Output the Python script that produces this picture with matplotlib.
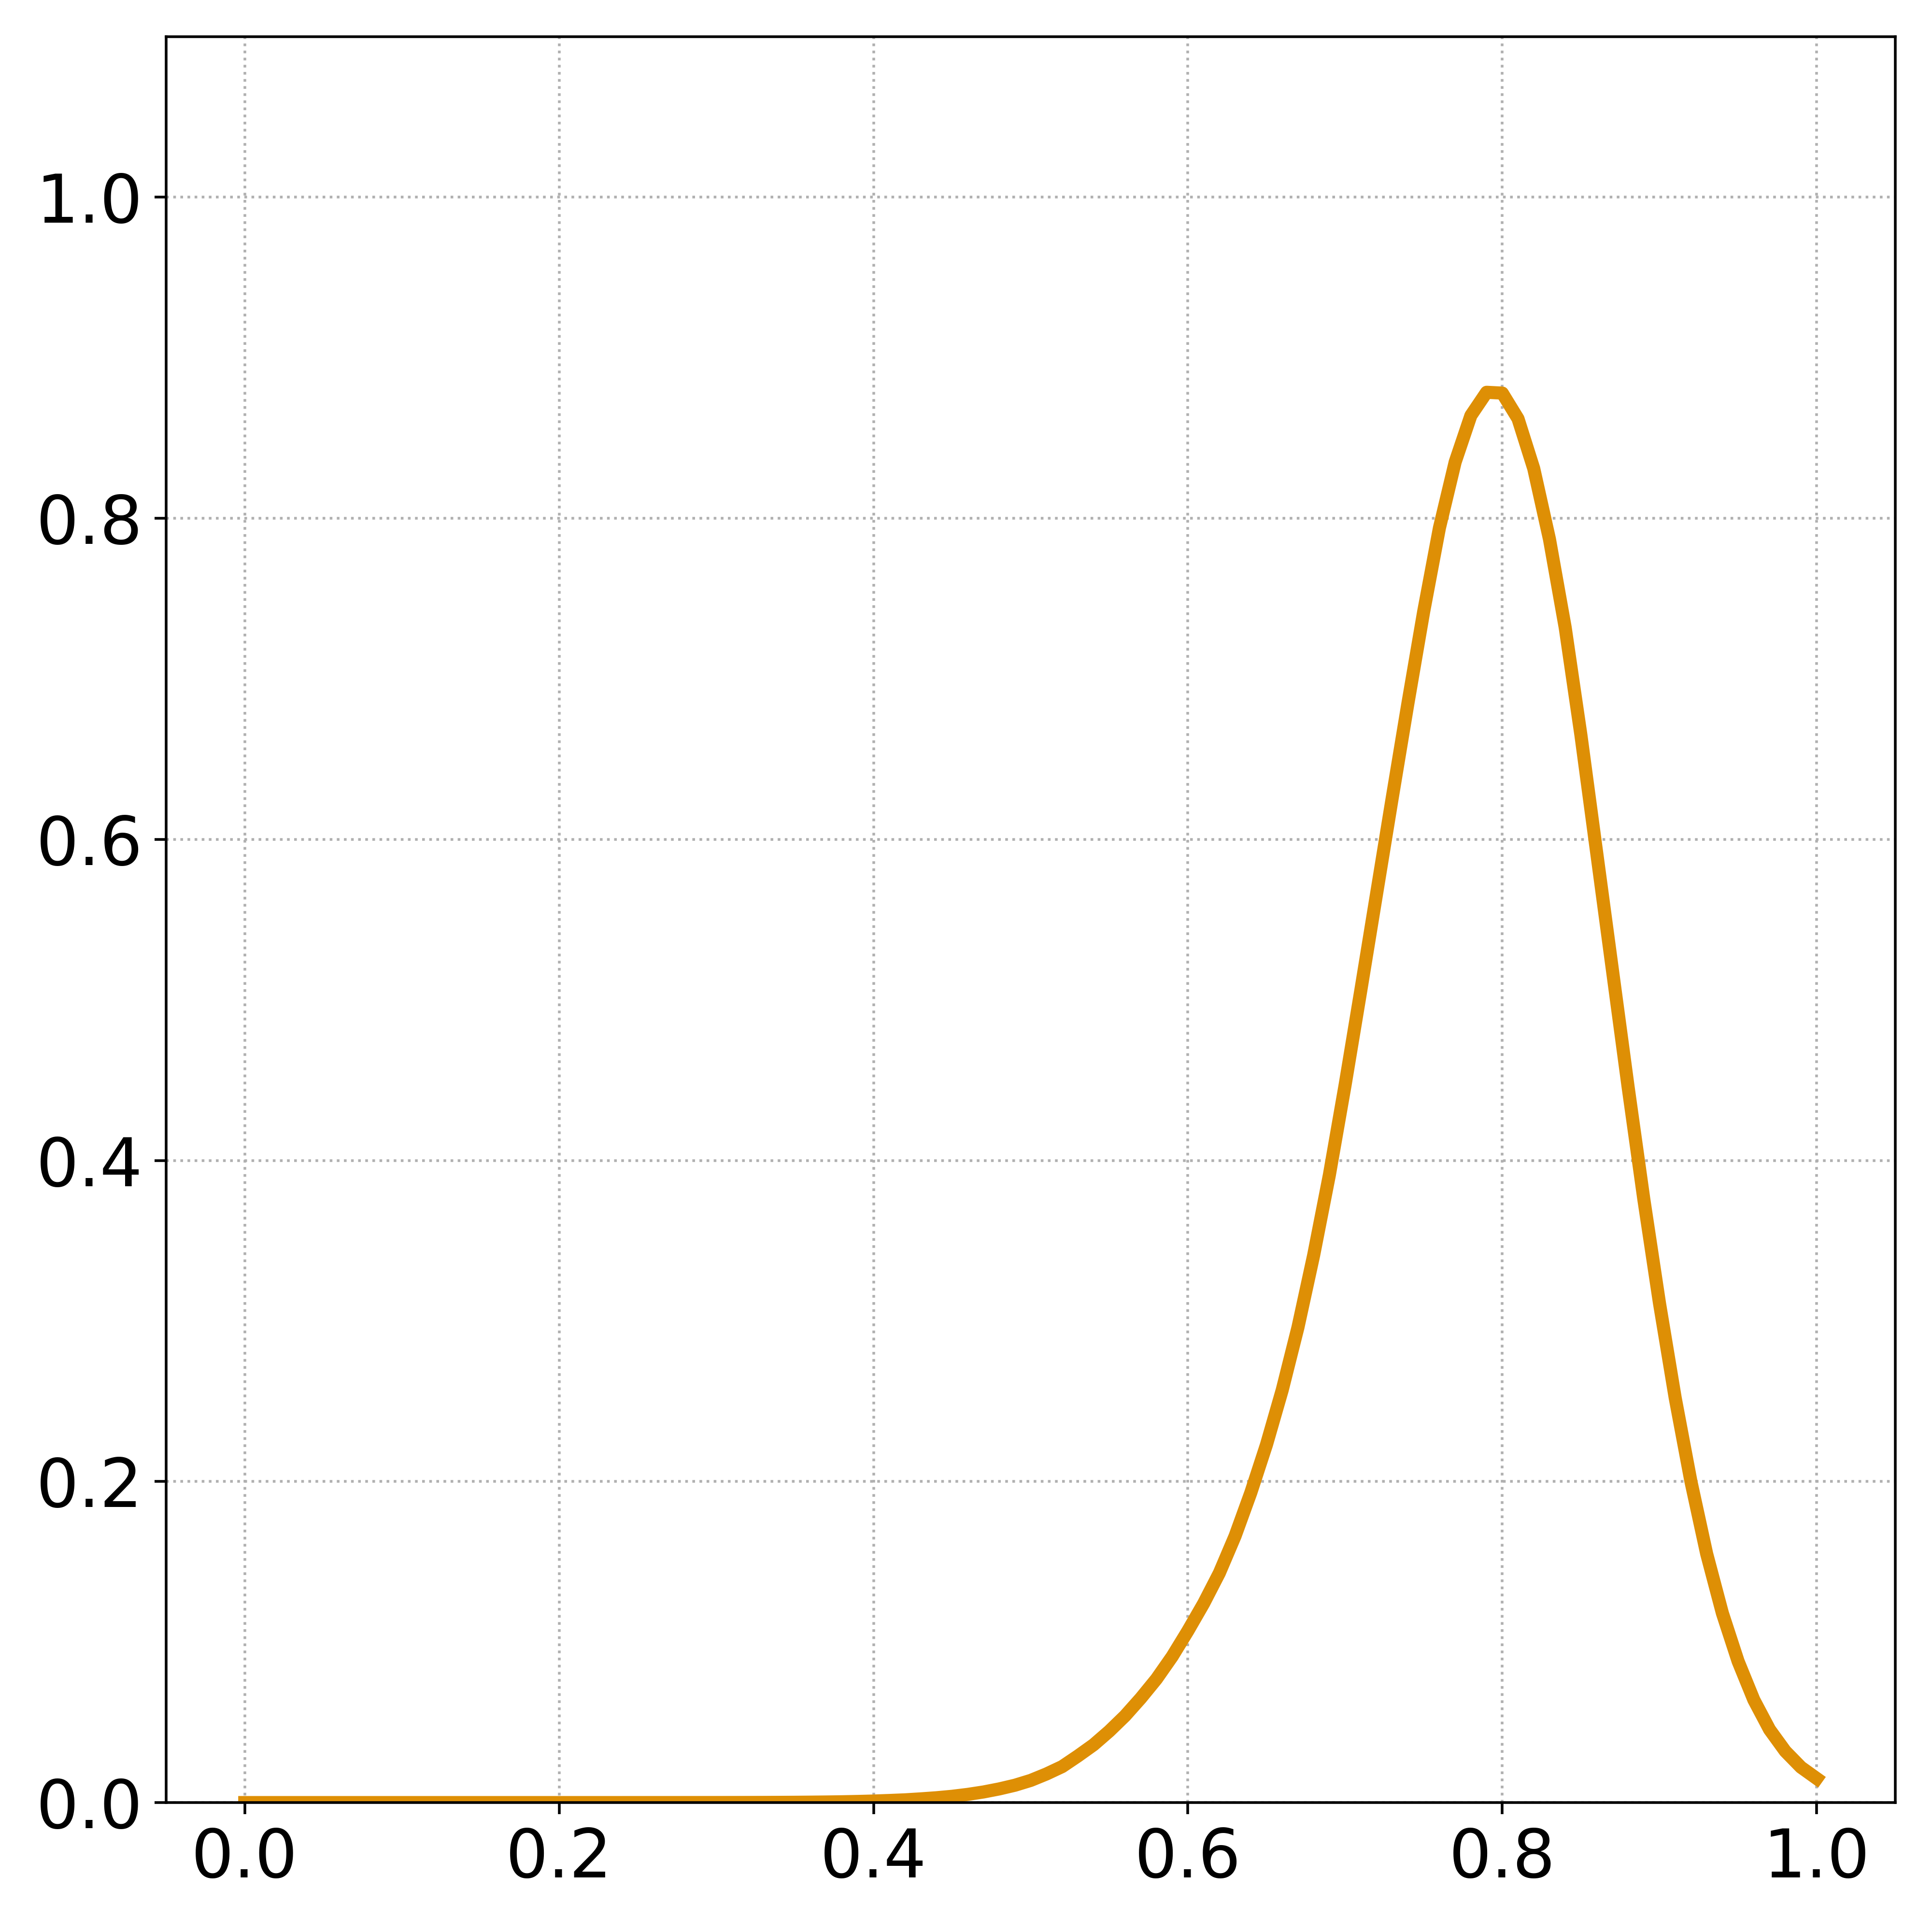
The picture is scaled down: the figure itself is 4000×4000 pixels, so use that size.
import matplotlib
matplotlib.use("Agg")
import matplotlib.pyplot as plt
import numpy as np

# x grid (0.00 .. 1.00 step 0.01) and curve values
x_values = [round(i * 0.01, 2) for i in range(101)]
y_values = [
    0.0, 0.0, 0.0, 0.0, 0.0, 0.0, 0.0, 0.0, 0.0, 0.0,            # 0.00-0.09
    0.0, 0.0, 0.0, 0.0, 0.0, 0.0, 0.0, 0.0, 0.0, 0.0,            # 0.10-0.19
    0.0, 0.0, 0.0, 0.0, 0.0, 0.000002, 0.000004, 0.000007, 0.000012, 0.00002,  # 0.20-0.29
    0.00003, 0.00004, 0.00006, 0.00009, 0.00013, 0.00018, 0.00026, 0.00036, 0.0005, 0.0007,  # 0.30-0.39
    0.00095, 0.0013, 0.0017, 0.0023, 0.0030, 0.0039, 0.0051, 0.0066, 0.0085, 0.0108,  # 0.40-0.49
    0.0138, 0.0178, 0.0224, 0.029, 0.036, 0.0445, 0.054, 0.065, 0.077, 0.091,  # 0.50-0.59
    0.107, 0.124, 0.143, 0.166, 0.193, 0.223, 0.257, 0.296, 0.341, 0.391,  # 0.60-0.69
    0.447, 0.506, 0.566, 0.626, 0.685, 0.742, 0.794, 0.835, 0.864, 0.8785,  # 0.70-0.79
    0.878, 0.862, 0.831, 0.787, 0.732, 0.665, 0.592, 0.519, 0.446, 0.376,  # 0.80-0.89
    0.311, 0.252, 0.200, 0.155, 0.118, 0.088, 0.064, 0.0455, 0.032, 0.022,  # 0.90-0.99
    0.015,                                                          # 1.00
]
x_ticks = [0.0, 0.2, 0.4, 0.6, 0.8, 1.0]
y_ticks = [0.0, 0.2, 0.4, 0.6, 0.8, 1.0]

fig = plt.figure(figsize=(8, 8), dpi=500)
ax = fig.add_axes([0.086, 0.067, 0.981 - 0.086, 0.981 - 0.067])

ax.plot(x_values, y_values, color="#DE8F05", linewidth=3.9)

ax.set_ylim(0, 1.1)
ax.set_xticks(x_ticks)
ax.set_yticks(y_ticks)
ax.set_xticklabels([f"{t:.1f}" for t in x_ticks])
ax.set_yticklabels([f"{t:.1f}" for t in y_ticks])
ax.tick_params(axis="both", labelsize=20)
ax.grid(True, linestyle=":", color="#b0b0b0", linewidth=0.8)
ax.set_axisbelow(True)

fig.savefig("out.png", dpi=500)
